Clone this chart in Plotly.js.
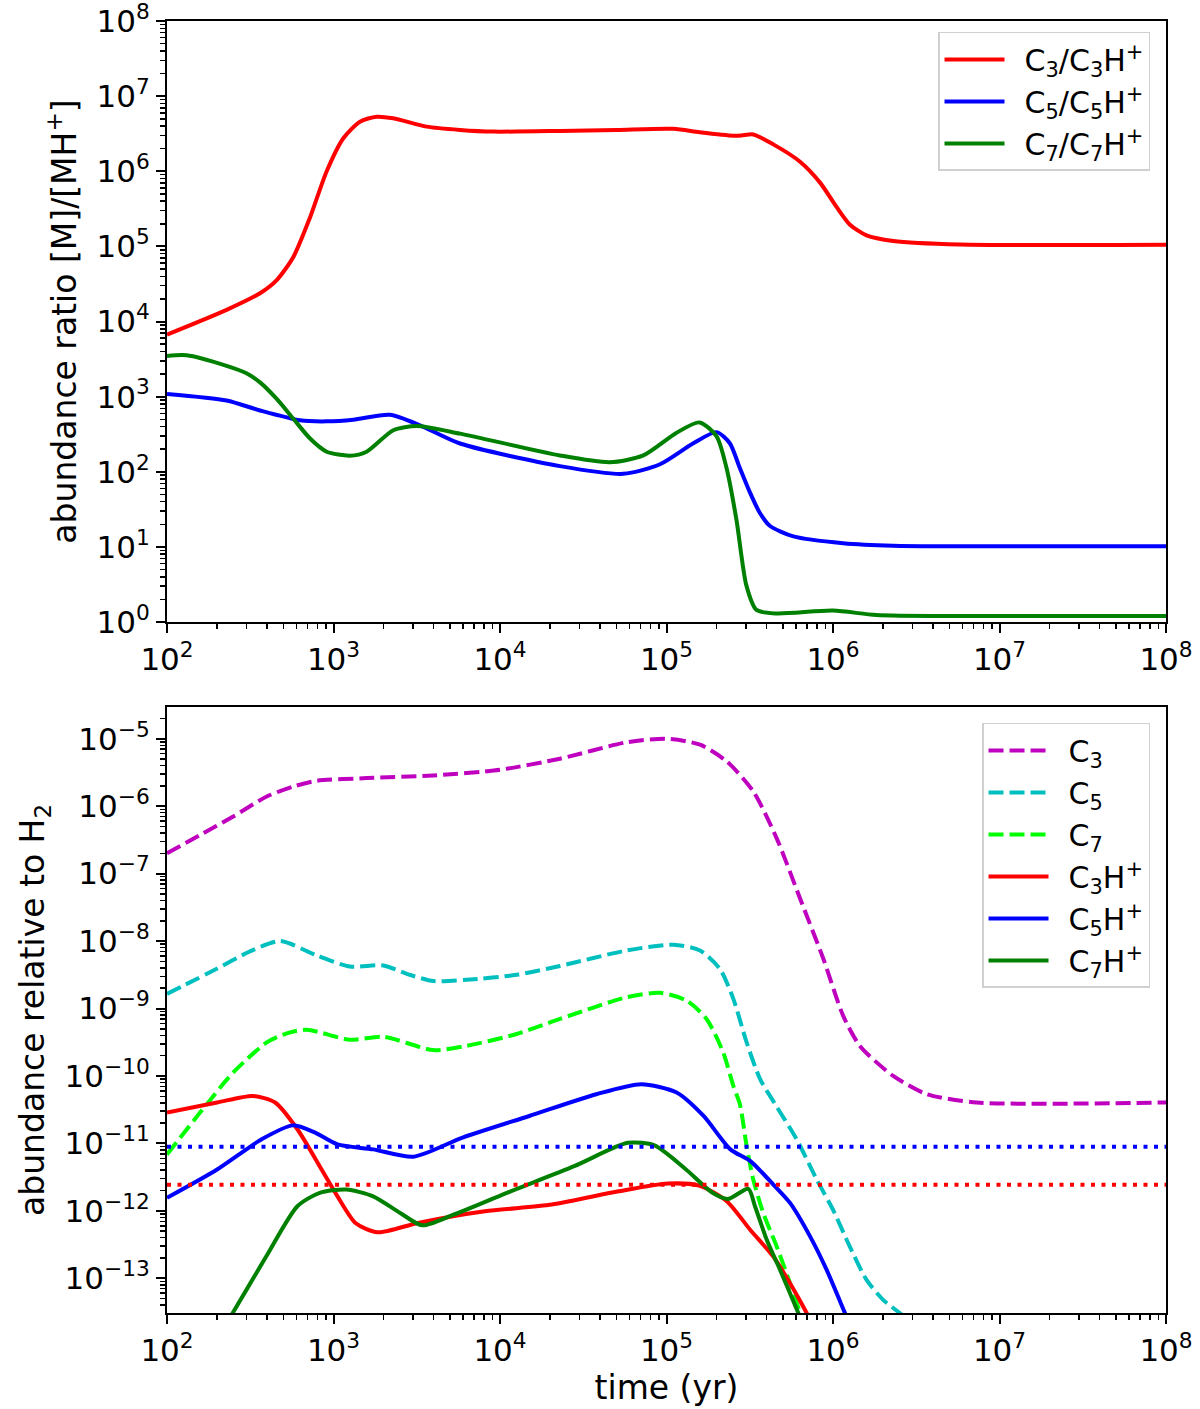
<!DOCTYPE html>
<html>
<head>
<meta charset="utf-8">
<script src="https://cdn.plot.ly/plotly-3.0.1.min.js"></script>
<style>
  html, body { margin: 0; padding: 0; background: #fff; }
  #plot { width: 1200px; height: 1409px; }
</style>
</head>
<body>
<div id="plot"></div>
<script>
// ---- top panel: abundance ratios [M]/[MH+] ----
var c3RatioT = [100, 228, 362, 456, 574, 723, 910, 1146, 1442, 1816, 2286, 3622, 5754, 9120, 22900, 50000, 1.1e5, 1.58e5, 2.52e5, 2.82e5, 3.32e5, 4.38e5, 6.34e5, 8.36e5, 1.05e6, 1.26e6, 1.59e6, 2.3e6, 5.78e6, 1e8];
var c3RatioV = [6700, 14300, 23800, 35600, 72300, 243000, 1.0e6, 2.75e6, 4.57e6, 5.32e6, 5.07e6, 3.93e6, 3.55e6, 3.37e6, 3.44e6, 3.55e6, 3.67e6, 3.3e6, 2.97e6, 2.99e6, 3.09e6, 2.28e6, 1.34e6, 7.06e5, 3.35e5, 1.96e5, 1.40e5, 1.18e5, 1.06e5, 1.05e5];

var c5RatioT = [100, 228, 362, 630, 910, 1315, 2183, 3304, 5754, 22900, 55000, 91400, 1.45e5, 2.0e5, 2.4e5, 2.75e5, 3.16e5, 3.63e5, 4.17e5, 5.78e5, 1.15e6, 2.3e6, 1e8];
var c5RatioV = [1084, 887, 655, 484, 469, 493, 574, 416, 238, 119, 94, 126, 240, 337, 240, 114, 54, 28.5, 19.1, 13.8, 11.2, 10.4, 10.2];

var c7RatioT = [100, 131, 228, 300, 362, 456, 574, 723, 910, 1256, 1581, 2286, 3162, 5754, 22900, 45700, 72600, 1.15e5, 1.58e5, 2.0e5, 2.29e5, 2.63e5, 3.02e5, 3.47e5, 4.57e5, 1e6, 1.82e6, 5.75e6, 1e8];
var c7RatioV = [3480, 3550, 2570, 2050, 1550, 933, 508, 277, 185, 164, 185, 357, 407, 322, 165, 134, 165, 331, 454, 297, 114, 23.1, 3.05, 1.45, 1.30, 1.42, 1.24, 1.20, 1.20];

// ---- bottom panel: abundances relative to H2 ----
var c3T = [100, 158, 250, 397, 574, 793, 1585, 3981, 1e4, 22900, 57700, 1.0e5, 1.59e5, 2.3e5, 3.32e5, 4.59e5, 6.34e5, 8.75e5, 1.15e6, 1.45e6, 2.3e6, 3.66e6, 7.3e6, 1e8];
var c3V = [2.0e-7, 3.74e-7, 7.03e-7, 1.39e-6, 1.96e-6, 2.38e-6, 2.61e-6, 2.86e-6, 3.47e-6, 5.06e-6, 8.87e-6, 1.0e-5, 8.17e-6, 4.62e-6, 1.66e-6, 3.34e-7, 4.28e-8, 5.47e-9, 7.83e-10, 2.79e-10, 1.0e-10, 5.37e-11, 4.04e-11, 4.04e-11];

var c5T = [100, 199, 315, 478, 793, 1256, 1991, 2754, 3981, 6310, 12600, 22900, 57700, 1.1e5, 1.59e5, 2.09e5, 2.52e5, 3.03e5, 3.65e5, 4.47e5, 6.05e5, 7.98e5, 1.0e6, 1.26e6, 1.59e6, 2.0e6, 2.52e6, 3.16e6];
var c5V = [1.65e-9, 3.88e-9, 7.03e-9, 1.0e-8, 6.12e-9, 4.2e-9, 4.35e-9, 3.27e-9, 2.55e-9, 2.67e-9, 3.16e-9, 4.27e-9, 7.26e-9, 8.83e-9, 7.26e-9, 3.88e-9, 1.39e-9, 3.14e-10, 8.95e-11, 3.89e-11, 1.15e-11, 2.91e-12, 1.04e-12, 2.96e-13, 9.46e-14, 4.79e-14, 3.05e-14, 2.0e-14];

var c7T = [100, 158, 250, 397, 524, 690, 1256, 1991, 3981, 6310, 12600, 22900, 57700, 91400, 1.32e5, 1.74e5, 2.19e5, 2.52e5, 2.76e5, 3.03e5, 3.32e5, 3.81e5, 4.59e5, 5.52e5, 6.34e5, 7.08e5];
var c7V = [6.85e-12, 2.86e-11, 1.13e-10, 3.14e-10, 4.28e-10, 4.85e-10, 3.44e-10, 3.82e-10, 2.42e-10, 2.8e-10, 4.19e-10, 7.0e-10, 1.47e-9, 1.71e-9, 1.31e-9, 7.0e-10, 2.24e-10, 7.13e-11, 3.8e-11, 9.12e-12, 2.91e-12, 9.31e-13, 2.96e-13, 8.45e-14, 3.05e-14, 1.26e-14];

var c3hT = [100, 200, 327, 446, 607, 826, 1057, 1355, 1841, 3214, 8110, 20500, 51600, 1.02e5, 1.57e5, 2.3e5, 3.18e5, 4.38e5, 5.52e5, 6.95e5, 7.94e5];
var c3hV = [2.86e-11, 4.04e-11, 5.06e-11, 4.04e-11, 1.62e-11, 4.59e-12, 1.64e-12, 6.61e-13, 4.8e-13, 6.61e-13, 9.84e-13, 1.24e-12, 1.95e-12, 2.54e-12, 2.37e-12, 1.39e-12, 5.25e-13, 2.1e-13, 8.45e-14, 3.05e-14, 1.58e-14];

var c5hT = [100, 200, 370, 570, 776, 1057, 1730, 3020, 5960, 15000, 37900, 70500, 1.15e5, 1.67e5, 2.42e5, 3.19e5, 4.38e5, 5.52e5, 7.28e5, 9.16e5, 1.18e6, 1.32e6];
var c5hV = [1.56e-12, 4.1e-12, 1.15e-11, 1.85e-11, 1.44e-11, 9.66e-12, 8.15e-12, 6.34e-12, 1.22e-11, 2.55e-11, 5.36e-11, 7.55e-11, 5.68e-11, 2.55e-11, 8.15e-12, 5.46e-12, 2.45e-12, 1.31e-12, 4.18e-13, 1.33e-13, 3.05e-14, 1.58e-14];

var c7hT = [100, 248, 394, 607, 826, 1194, 1730, 2512, 3412, 5260, 11000, 27900, 58500, 84700, 1.31e5, 1.89e5, 2.34e5, 3.1e5, 3.4e5, 4.0e5, 4.81e5, 6.19e5, 6.92e5];
var c7hV = [7.9e-16, 3.05e-14, 2.1e-13, 1.17e-12, 1.85e-12, 2.07e-12, 1.64e-12, 9.31e-13, 6.1e-13, 8.77e-13, 1.85e-12, 4.59e-12, 1.02e-11, 9.33e-12, 4.1e-12, 1.85e-12, 1.5e-12, 2.12e-12, 1.17e-12, 3.72e-13, 1.33e-13, 3.05e-14, 1.58e-14];

// horizontal reference levels
var levelT = [100, 1e8];
var c5hLevel = [8.93e-12, 8.93e-12];
var c3hLevel = [2.43e-12, 2.43e-12];

// tick labels
var xTickVals = [1e2, 1e3, 1e4, 1e5, 1e6, 1e7, 1e8];
var xTickText = ['10<sup>2</sup>', '10<sup>3</sup>', '10<sup>4</sup>', '10<sup>5</sup>', '10<sup>6</sup>', '10<sup>7</sup>', '10<sup>8</sup>'];
var y1TickVals = [1e0, 1e1, 1e2, 1e3, 1e4, 1e5, 1e6, 1e7, 1e8];
var y1TickText = ['10<sup>0</sup>', '10<sup>1</sup>', '10<sup>2</sup>', '10<sup>3</sup>', '10<sup>4</sup>', '10<sup>5</sup>', '10<sup>6</sup>', '10<sup>7</sup>', '10<sup>8</sup>'];
var y2TickVals = [1e-13, 1e-12, 1e-11, 1e-10, 1e-9, 1e-8, 1e-7, 1e-6, 1e-5];
var y2TickText = ['10<sup>\u221213</sup>', '10<sup>\u221212</sup>', '10<sup>\u221211</sup>', '10<sup>\u221210</sup>', '10<sup>\u22129</sup>', '10<sup>\u22128</sup>', '10<sup>\u22127</sup>', '10<sup>\u22126</sup>', '10<sup>\u22125</sup>'];

var FONT = 'DejaVu Sans, sans-serif';
var LW = 4;
var DASH = '15px,6px';
var DOT = '4px,6.5px';
var GAP = '\u2002';

function line(x, y, name, color, dash, xa, ya, legend, show) {
  return {
    x: x, y: y, name: name, mode: 'lines', type: 'scatter',
    xaxis: xa, yaxis: ya, legend: legend, showlegend: show,
    line: { color: color, width: LW, dash: dash, shape: 'spline', smoothing: 0.7 },
    hoverinfo: 'skip'
  };
}

var data = [
  line(c3RatioT, c3RatioV, GAP + 'C<sub>3</sub>/C<sub>3</sub>H<sup>+</sup>', '#ff0000', 'solid', 'x', 'y', 'legend', true),
  line(c5RatioT, c5RatioV, GAP + 'C<sub>5</sub>/C<sub>5</sub>H<sup>+</sup>', '#0000ff', 'solid', 'x', 'y', 'legend', true),
  line(c7RatioT, c7RatioV, GAP + 'C<sub>7</sub>/C<sub>7</sub>H<sup>+</sup>', '#008000', 'solid', 'x', 'y', 'legend', true),

  line(c3T, c3V, GAP + 'C<sub>3</sub>', '#bf00bf', DASH, 'x2', 'y2', 'legend2', true),
  line(c5T, c5V, GAP + 'C<sub>5</sub>', '#00bfbf', DASH, 'x2', 'y2', 'legend2', true),
  line(c7T, c7V, GAP + 'C<sub>7</sub>', '#00ff00', DASH, 'x2', 'y2', 'legend2', true),
  line(c3hT, c3hV, GAP + 'C<sub>3</sub>H<sup>+</sup>', '#ff0000', 'solid', 'x2', 'y2', 'legend2', true),
  line(c5hT, c5hV, GAP + 'C<sub>5</sub>H<sup>+</sup>', '#0000ff', 'solid', 'x2', 'y2', 'legend2', true),
  line(c7hT, c7hV, GAP + 'C<sub>7</sub>H<sup>+</sup>', '#008000', 'solid', 'x2', 'y2', 'legend2', true),
  line(levelT, c5hLevel, 'C5H+ level', '#0000ff', DOT, 'x2', 'y2', 'legend2', false),
  line(levelT, c3hLevel, 'C3H+ level', '#ff0000', DOT, 'x2', 'y2', 'legend2', false)
];

function axis(extra) {
  var a = {
    type: 'log', showgrid: false, zeroline: false,
    showline: true, mirror: true, linecolor: '#000', linewidth: 2,
    ticks: 'outside', ticklen: 9, tickwidth: 2, tickcolor: '#000',
    tickmode: 'array', ticklabeloverflow: 'allow',
    tickfont: { family: FONT, size: 31, color: '#000' },
    minor: { ticks: 'outside', ticklen: 5, tickwidth: 1.5, tickcolor: '#000', dtick: 'D1', showgrid: false }
  };
  for (var k in extra) a[k] = extra[k];
  return a;
}

var titleFont = { family: FONT, size: 33, color: '#000' };

var legendStyle = {
  font: { family: FONT, size: 30, color: '#000' },
  bgcolor: 'rgba(255,255,255,0.9)', bordercolor: '#d0d0d0', borderwidth: 1.5,
  xanchor: 'right', yanchor: 'top', itemwidth: 60, tracegroupgap: 0
};

var layout = {
  width: 1200, height: 1409,
  margin: { l: 167, r: 34, t: 21, b: 96 },
  paper_bgcolor: '#fff', plot_bgcolor: '#fff',
  font: { family: FONT, color: '#000' },
  xaxis: axis({ anchor: 'y', domain: [0, 1], range: [2, 8], tickvals: xTickVals, ticktext: xTickText }),
  yaxis: axis({
    anchor: 'x', domain: [0.5348, 1], range: [0, 8], tickvals: y1TickVals, ticktext: y1TickText,
    title: { text: 'abundance ratio [M]/[MH<sup>+</sup>]', font: titleFont, standoff: 10 }
  }),
  xaxis2: axis({
    anchor: 'y2', domain: [0, 1], range: [2, 8], tickvals: xTickVals, ticktext: xTickText,
    title: { text: 'time (yr)', font: titleFont, standoff: 6 }
  }),
  yaxis2: axis({
    anchor: 'x2', domain: [0, 0.4691], range: [-13.515, -4.528], tickvals: y2TickVals, ticktext: y2TickText,
    title: { text: 'abundance relative to H<sub>2</sub>', font: titleFont, standoff: 10 }
  }),
  legend: Object.assign({ x: 0.984, y: 0.9915 }, legendStyle),
  legend2: Object.assign({ x: 0.984, y: 0.4567 }, legendStyle)
};

Plotly.newPlot('plot', data, layout, { displayModeBar: false, staticPlot: true });
</script>
</body>
</html>
